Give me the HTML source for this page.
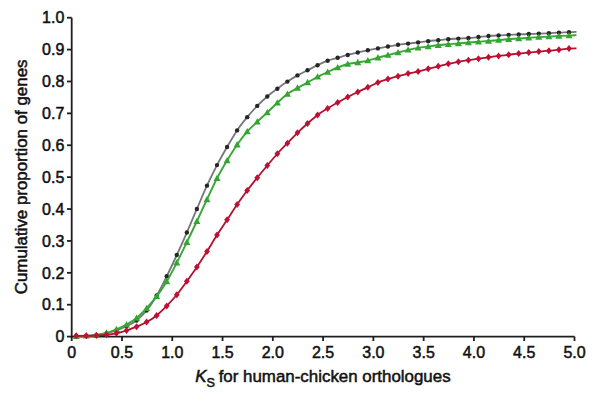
<!DOCTYPE html>
<html><head><meta charset="utf-8"><style>
html,body{margin:0;padding:0;background:#fff;}
body{width:600px;height:394px;overflow:hidden;position:relative;}
svg{position:absolute;left:0;top:0;}
text{font-family:"Liberation Sans",sans-serif;fill:#111;stroke:#111;stroke-width:0.5px;}
</style></head><body>
<svg width="600" height="394" viewBox="0 0 600 394">

<g stroke="#1e1e1e" stroke-width="1.8" fill="none">
<path d="M71.7,17.7 V336.6 H574.6"/>
<path d="M67,336.60 H71.7"/>
<path d="M67,304.71 H71.7"/>
<path d="M67,272.82 H71.7"/>
<path d="M67,240.93 H71.7"/>
<path d="M67,209.04 H71.7"/>
<path d="M67,177.15 H71.7"/>
<path d="M67,145.26 H71.7"/>
<path d="M67,113.37 H71.7"/>
<path d="M67,81.48 H71.7"/>
<path d="M67,49.59 H71.7"/>
<path d="M67,17.70 H71.7"/>
<path d="M71.70,336.6 V341"/>
<path d="M121.98,336.6 V341"/>
<path d="M172.26,336.6 V341"/>
<path d="M222.54,336.6 V341"/>
<path d="M272.82,336.6 V341"/>
<path d="M323.10,336.6 V341"/>
<path d="M373.38,336.6 V341"/>
<path d="M423.66,336.6 V341"/>
<path d="M473.94,336.6 V341"/>
<path d="M524.22,336.6 V341"/>
<path d="M574.50,336.6 V341"/>
</g>
<g font-size="16" text-anchor="end">
<text x="64.3" y="342.30">0</text>
<text x="64.3" y="310.41">0.1</text>
<text x="64.3" y="278.52">0.2</text>
<text x="64.3" y="246.63">0.3</text>
<text x="64.3" y="214.74">0.4</text>
<text x="64.3" y="182.85">0.5</text>
<text x="64.3" y="150.96">0.6</text>
<text x="64.3" y="119.07">0.7</text>
<text x="64.3" y="87.18">0.8</text>
<text x="64.3" y="55.29">0.9</text>
<text x="64.3" y="23.40">1.0</text>
</g>
<g font-size="16" text-anchor="middle">
<text x="71.70" y="358">0</text>
<text x="121.98" y="358">0.5</text>
<text x="172.26" y="358">1.0</text>
<text x="222.54" y="358">1.5</text>
<text x="272.82" y="358">2.0</text>
<text x="323.10" y="358">2.5</text>
<text x="373.38" y="358">3.0</text>
<text x="423.66" y="358">3.5</text>
<text x="473.94" y="358">4.0</text>
<text x="524.22" y="358">4.5</text>
<text x="574.50" y="358">5.0</text>
</g>
<text x="0" y="0" font-size="16.9" text-anchor="middle" transform="translate(26.8,176.9) rotate(-90)">Cumulative proportion of genes</text>
<text x="195.3" y="382.3" font-size="16.9"><tspan font-style="italic">K</tspan><tspan font-size="12.6" dy="4.4">S</tspan><tspan dy="-4.4" dx="-1"> for human-chicken orthologues</tspan></text>
<path d="M76.23,336.30 C77.90,336.24 82.93,336.11 86.28,335.92 C89.64,335.73 92.99,335.55 96.34,335.14 C99.69,334.73 103.04,334.24 106.40,333.44 C109.75,332.64 113.10,331.55 116.45,330.36 C119.80,329.17 123.16,327.94 126.51,326.30 C129.86,324.66 133.21,323.15 136.56,320.52 C139.92,317.89 143.27,314.71 146.62,310.54 C149.97,306.37 153.32,301.19 156.68,295.48 C160.03,289.77 163.38,283.03 166.73,276.28 C170.08,269.53 173.44,262.29 176.79,255.00 C180.14,247.71 183.49,240.20 186.84,232.52 C190.20,224.84 193.55,216.75 196.90,208.94 C200.25,201.13 203.60,192.95 206.96,185.64 C210.31,178.33 213.66,171.53 217.01,165.08 C220.36,158.63 223.72,152.74 227.07,146.96 C230.42,141.18 233.77,135.35 237.12,130.38 C240.48,125.41 243.83,121.24 247.18,117.16 C250.53,113.08 253.88,109.37 257.24,105.92 C260.59,102.47 263.94,99.35 267.29,96.48 C270.64,93.61 274.00,91.16 277.35,88.68 C280.70,86.20 284.05,83.83 287.40,81.62 C290.76,79.41 294.11,77.28 297.46,75.40 C300.81,73.52 304.16,72.02 307.52,70.32 C310.87,68.62 314.22,66.79 317.57,65.18 C320.92,63.57 324.28,61.91 327.63,60.68 C330.98,59.45 334.33,58.73 337.68,57.78 C341.04,56.83 344.39,55.85 347.74,54.96 C351.09,54.07 354.44,53.22 357.80,52.44 C361.15,51.66 364.50,50.95 367.85,50.28 C371.20,49.61 374.56,49.02 377.91,48.40 C381.26,47.78 384.61,47.16 387.96,46.56 C391.32,45.96 394.67,45.30 398.02,44.80 C401.37,44.30 404.72,43.98 408.08,43.58 C411.43,43.18 414.78,42.82 418.13,42.42 C421.48,42.02 424.84,41.53 428.19,41.16 C431.54,40.79 434.89,40.51 438.24,40.18 C441.60,39.85 444.95,39.45 448.30,39.18 C451.65,38.91 455.00,38.78 458.36,38.58 C461.71,38.38 465.06,38.25 468.41,38.00 C471.76,37.75 475.12,37.39 478.47,37.06 C481.82,36.73 485.17,36.32 488.52,36.04 C491.88,35.76 495.23,35.58 498.58,35.38 C501.93,35.18 505.28,35.01 508.64,34.86 C511.99,34.71 515.34,34.60 518.69,34.46 C522.04,34.32 525.40,34.16 528.75,34.02 C532.10,33.88 535.45,33.76 538.80,33.62 C542.16,33.48 545.51,33.37 548.86,33.20 C552.21,33.03 555.56,32.77 558.92,32.60 C562.27,32.43 566.04,32.33 568.97,32.20 C571.90,32.07 575.25,31.87 576.50,31.80" fill="none" stroke="#76777c" stroke-width="1.8" stroke-linejoin="round"/>
<circle cx="76.23" cy="336.30" r="2.2" fill="#262626"/>
<circle cx="86.28" cy="335.92" r="2.2" fill="#262626"/>
<circle cx="96.34" cy="335.14" r="2.2" fill="#262626"/>
<circle cx="106.40" cy="333.44" r="2.2" fill="#262626"/>
<circle cx="116.45" cy="330.36" r="2.2" fill="#262626"/>
<circle cx="126.51" cy="326.30" r="2.2" fill="#262626"/>
<circle cx="136.56" cy="320.52" r="2.2" fill="#262626"/>
<circle cx="146.62" cy="310.54" r="2.2" fill="#262626"/>
<circle cx="156.68" cy="295.48" r="2.2" fill="#262626"/>
<circle cx="166.73" cy="276.28" r="2.2" fill="#262626"/>
<circle cx="176.79" cy="255.00" r="2.2" fill="#262626"/>
<circle cx="186.84" cy="232.52" r="2.2" fill="#262626"/>
<circle cx="196.90" cy="208.94" r="2.2" fill="#262626"/>
<circle cx="206.96" cy="185.64" r="2.2" fill="#262626"/>
<circle cx="217.01" cy="165.08" r="2.2" fill="#262626"/>
<circle cx="227.07" cy="146.96" r="2.2" fill="#262626"/>
<circle cx="237.12" cy="130.38" r="2.2" fill="#262626"/>
<circle cx="247.18" cy="117.16" r="2.2" fill="#262626"/>
<circle cx="257.24" cy="105.92" r="2.2" fill="#262626"/>
<circle cx="267.29" cy="96.48" r="2.2" fill="#262626"/>
<circle cx="277.35" cy="88.68" r="2.2" fill="#262626"/>
<circle cx="287.40" cy="81.62" r="2.2" fill="#262626"/>
<circle cx="297.46" cy="75.40" r="2.2" fill="#262626"/>
<circle cx="307.52" cy="70.32" r="2.2" fill="#262626"/>
<circle cx="317.57" cy="65.18" r="2.2" fill="#262626"/>
<circle cx="327.63" cy="60.68" r="2.2" fill="#262626"/>
<circle cx="337.68" cy="57.78" r="2.2" fill="#262626"/>
<circle cx="347.74" cy="54.96" r="2.2" fill="#262626"/>
<circle cx="357.80" cy="52.44" r="2.2" fill="#262626"/>
<circle cx="367.85" cy="50.28" r="2.2" fill="#262626"/>
<circle cx="377.91" cy="48.40" r="2.2" fill="#262626"/>
<circle cx="387.96" cy="46.56" r="2.2" fill="#262626"/>
<circle cx="398.02" cy="44.80" r="2.2" fill="#262626"/>
<circle cx="408.08" cy="43.58" r="2.2" fill="#262626"/>
<circle cx="418.13" cy="42.42" r="2.2" fill="#262626"/>
<circle cx="428.19" cy="41.16" r="2.2" fill="#262626"/>
<circle cx="438.24" cy="40.18" r="2.2" fill="#262626"/>
<circle cx="448.30" cy="39.18" r="2.2" fill="#262626"/>
<circle cx="458.36" cy="38.58" r="2.2" fill="#262626"/>
<circle cx="468.41" cy="38.00" r="2.2" fill="#262626"/>
<circle cx="478.47" cy="37.06" r="2.2" fill="#262626"/>
<circle cx="488.52" cy="36.04" r="2.2" fill="#262626"/>
<circle cx="498.58" cy="35.38" r="2.2" fill="#262626"/>
<circle cx="508.64" cy="34.86" r="2.2" fill="#262626"/>
<circle cx="518.69" cy="34.46" r="2.2" fill="#262626"/>
<circle cx="528.75" cy="34.02" r="2.2" fill="#262626"/>
<circle cx="538.80" cy="33.62" r="2.2" fill="#262626"/>
<circle cx="548.86" cy="33.20" r="2.2" fill="#262626"/>
<circle cx="558.92" cy="32.60" r="2.2" fill="#262626"/>
<circle cx="568.97" cy="32.20" r="2.2" fill="#262626"/>
<path d="M76.23,336.30 C77.90,336.23 82.93,336.12 86.28,335.90 C89.64,335.68 92.99,335.48 96.34,334.98 C99.69,334.48 103.04,333.86 106.40,332.92 C109.75,331.98 113.10,330.73 116.45,329.36 C119.80,327.99 123.16,326.57 126.51,324.68 C129.86,322.79 133.21,320.76 136.56,318.02 C139.92,315.28 143.27,311.84 146.62,308.24 C149.97,304.64 153.32,300.89 156.68,296.42 C160.03,291.95 163.38,287.06 166.73,281.44 C170.08,275.82 173.44,269.21 176.79,262.68 C180.14,256.15 183.49,249.16 186.84,242.26 C190.20,235.36 193.55,228.41 196.90,221.28 C200.25,214.15 203.60,206.65 206.96,199.48 C210.31,192.31 213.66,184.76 217.01,178.26 C220.36,171.76 223.72,166.07 227.07,160.48 C230.42,154.89 233.77,149.50 237.12,144.70 C240.48,139.90 243.83,135.48 247.18,131.66 C250.53,127.84 253.88,124.96 257.24,121.76 C260.59,118.56 263.94,115.64 267.29,112.48 C270.64,109.32 274.00,105.90 277.35,102.82 C280.70,99.74 284.05,96.50 287.40,94.02 C290.76,91.54 294.11,89.87 297.46,87.94 C300.81,86.01 304.16,84.31 307.52,82.46 C310.87,80.61 314.22,78.57 317.57,76.82 C320.92,75.07 324.28,73.53 327.63,71.98 C330.98,70.43 334.33,68.83 337.68,67.50 C341.04,66.17 344.39,64.82 347.74,63.98 C351.09,63.14 354.44,62.99 357.80,62.44 C361.15,61.89 364.50,61.45 367.85,60.66 C371.20,59.87 374.56,58.63 377.91,57.70 C381.26,56.77 384.61,55.97 387.96,55.10 C391.32,54.23 394.67,53.35 398.02,52.48 C401.37,51.61 404.72,50.63 408.08,49.86 C411.43,49.09 414.78,48.44 418.13,47.88 C421.48,47.32 424.84,46.96 428.19,46.52 C431.54,46.08 434.89,45.60 438.24,45.22 C441.60,44.84 444.95,44.55 448.30,44.26 C451.65,43.97 455.00,43.78 458.36,43.48 C461.71,43.18 465.06,42.78 468.41,42.48 C471.76,42.18 475.12,41.92 478.47,41.68 C481.82,41.44 485.17,41.31 488.52,41.04 C491.88,40.77 495.23,40.37 498.58,40.06 C501.93,39.75 505.28,39.43 508.64,39.18 C511.99,38.93 515.34,38.77 518.69,38.54 C522.04,38.31 525.40,38.05 528.75,37.82 C532.10,37.59 535.45,37.35 538.80,37.14 C542.16,36.93 545.51,36.76 548.86,36.58 C552.21,36.40 555.56,36.20 558.92,36.04 C562.27,35.88 566.04,35.76 568.97,35.60 C571.90,35.44 575.25,35.18 576.50,35.10" fill="none" stroke="#36a834" stroke-width="1.9" stroke-linejoin="round"/>
<path d="M76.23,332.70 L79.73,339.00 L72.73,339.00 Z" fill="#33a632"/>
<path d="M86.28,332.30 L89.78,338.60 L82.78,338.60 Z" fill="#33a632"/>
<path d="M96.34,331.38 L99.84,337.68 L92.84,337.68 Z" fill="#33a632"/>
<path d="M106.40,329.32 L109.90,335.62 L102.90,335.62 Z" fill="#33a632"/>
<path d="M116.45,325.76 L119.95,332.06 L112.95,332.06 Z" fill="#33a632"/>
<path d="M126.51,321.08 L130.01,327.38 L123.01,327.38 Z" fill="#33a632"/>
<path d="M136.56,314.42 L140.06,320.72 L133.06,320.72 Z" fill="#33a632"/>
<path d="M146.62,304.64 L150.12,310.94 L143.12,310.94 Z" fill="#33a632"/>
<path d="M156.68,292.82 L160.18,299.12 L153.18,299.12 Z" fill="#33a632"/>
<path d="M166.73,277.84 L170.23,284.14 L163.23,284.14 Z" fill="#33a632"/>
<path d="M176.79,259.08 L180.29,265.38 L173.29,265.38 Z" fill="#33a632"/>
<path d="M186.84,238.66 L190.34,244.96 L183.34,244.96 Z" fill="#33a632"/>
<path d="M196.90,217.68 L200.40,223.98 L193.40,223.98 Z" fill="#33a632"/>
<path d="M206.96,195.88 L210.46,202.18 L203.46,202.18 Z" fill="#33a632"/>
<path d="M217.01,174.66 L220.51,180.96 L213.51,180.96 Z" fill="#33a632"/>
<path d="M227.07,156.88 L230.57,163.18 L223.57,163.18 Z" fill="#33a632"/>
<path d="M237.12,141.10 L240.62,147.40 L233.62,147.40 Z" fill="#33a632"/>
<path d="M247.18,128.06 L250.68,134.36 L243.68,134.36 Z" fill="#33a632"/>
<path d="M257.24,118.16 L260.74,124.46 L253.74,124.46 Z" fill="#33a632"/>
<path d="M267.29,108.88 L270.79,115.18 L263.79,115.18 Z" fill="#33a632"/>
<path d="M277.35,99.22 L280.85,105.52 L273.85,105.52 Z" fill="#33a632"/>
<path d="M287.40,90.42 L290.90,96.72 L283.90,96.72 Z" fill="#33a632"/>
<path d="M297.46,84.34 L300.96,90.64 L293.96,90.64 Z" fill="#33a632"/>
<path d="M307.52,78.86 L311.02,85.16 L304.02,85.16 Z" fill="#33a632"/>
<path d="M317.57,73.22 L321.07,79.52 L314.07,79.52 Z" fill="#33a632"/>
<path d="M327.63,68.38 L331.13,74.68 L324.13,74.68 Z" fill="#33a632"/>
<path d="M337.68,63.90 L341.18,70.20 L334.18,70.20 Z" fill="#33a632"/>
<path d="M347.74,60.38 L351.24,66.68 L344.24,66.68 Z" fill="#33a632"/>
<path d="M357.80,58.84 L361.30,65.14 L354.30,65.14 Z" fill="#33a632"/>
<path d="M367.85,57.06 L371.35,63.36 L364.35,63.36 Z" fill="#33a632"/>
<path d="M377.91,54.10 L381.41,60.40 L374.41,60.40 Z" fill="#33a632"/>
<path d="M387.96,51.50 L391.46,57.80 L384.46,57.80 Z" fill="#33a632"/>
<path d="M398.02,48.88 L401.52,55.18 L394.52,55.18 Z" fill="#33a632"/>
<path d="M408.08,46.26 L411.58,52.56 L404.58,52.56 Z" fill="#33a632"/>
<path d="M418.13,44.28 L421.63,50.58 L414.63,50.58 Z" fill="#33a632"/>
<path d="M428.19,42.92 L431.69,49.22 L424.69,49.22 Z" fill="#33a632"/>
<path d="M438.24,41.62 L441.74,47.92 L434.74,47.92 Z" fill="#33a632"/>
<path d="M448.30,40.66 L451.80,46.96 L444.80,46.96 Z" fill="#33a632"/>
<path d="M458.36,39.88 L461.86,46.18 L454.86,46.18 Z" fill="#33a632"/>
<path d="M468.41,38.88 L471.91,45.18 L464.91,45.18 Z" fill="#33a632"/>
<path d="M478.47,38.08 L481.97,44.38 L474.97,44.38 Z" fill="#33a632"/>
<path d="M488.52,37.44 L492.02,43.74 L485.02,43.74 Z" fill="#33a632"/>
<path d="M498.58,36.46 L502.08,42.76 L495.08,42.76 Z" fill="#33a632"/>
<path d="M508.64,35.58 L512.14,41.88 L505.14,41.88 Z" fill="#33a632"/>
<path d="M518.69,34.94 L522.19,41.24 L515.19,41.24 Z" fill="#33a632"/>
<path d="M528.75,34.22 L532.25,40.52 L525.25,40.52 Z" fill="#33a632"/>
<path d="M538.80,33.54 L542.30,39.84 L535.30,39.84 Z" fill="#33a632"/>
<path d="M548.86,32.98 L552.36,39.28 L545.36,39.28 Z" fill="#33a632"/>
<path d="M558.92,32.44 L562.42,38.74 L555.42,38.74 Z" fill="#33a632"/>
<path d="M568.97,32.00 L572.47,38.30 L565.47,38.30 Z" fill="#33a632"/>
<path d="M76.23,335.80 C77.90,335.79 82.93,335.80 86.28,335.74 C89.64,335.68 92.99,335.61 96.34,335.46 C99.69,335.31 103.04,335.18 106.40,334.82 C109.75,334.46 113.10,334.02 116.45,333.30 C119.80,332.58 123.16,331.60 126.51,330.50 C129.86,329.40 133.21,328.11 136.56,326.70 C139.92,325.29 143.27,323.94 146.62,322.06 C149.97,320.18 153.32,318.13 156.68,315.44 C160.03,312.75 163.38,309.36 166.73,305.92 C170.08,302.48 173.44,298.88 176.79,294.78 C180.14,290.68 183.49,285.96 186.84,281.34 C190.20,276.72 193.55,272.07 196.90,267.08 C200.25,262.09 203.60,256.74 206.96,251.40 C210.31,246.06 213.66,240.30 217.01,235.04 C220.36,229.78 223.72,224.94 227.07,219.86 C230.42,214.78 233.77,209.42 237.12,204.54 C240.48,199.66 243.83,195.03 247.18,190.56 C250.53,186.09 253.88,181.92 257.24,177.74 C260.59,173.56 263.94,169.48 267.29,165.48 C270.64,161.48 274.00,157.46 277.35,153.74 C280.70,150.02 284.05,146.62 287.40,143.14 C290.76,139.66 294.11,136.14 297.46,132.86 C300.81,129.58 304.16,126.44 307.52,123.46 C310.87,120.48 314.22,117.47 317.57,114.96 C320.92,112.45 324.28,110.46 327.63,108.38 C330.98,106.30 334.33,104.40 337.68,102.50 C341.04,100.60 344.39,98.72 347.74,96.96 C351.09,95.20 354.44,93.54 357.80,91.94 C361.15,90.34 364.50,88.91 367.85,87.34 C371.20,85.77 374.56,83.89 377.91,82.52 C381.26,81.15 384.61,80.18 387.96,79.12 C391.32,78.06 394.67,77.09 398.02,76.16 C401.37,75.23 404.72,74.34 408.08,73.56 C411.43,72.78 414.78,72.26 418.13,71.48 C421.48,70.70 424.84,69.72 428.19,68.86 C431.54,68.00 434.89,67.16 438.24,66.32 C441.60,65.48 444.95,64.59 448.30,63.84 C451.65,63.09 455.00,62.41 458.36,61.80 C461.71,61.19 465.06,60.71 468.41,60.20 C471.76,59.69 475.12,59.21 478.47,58.72 C481.82,58.23 485.17,57.75 488.52,57.28 C491.88,56.81 495.23,56.34 498.58,55.92 C501.93,55.50 505.28,55.18 508.64,54.78 C511.99,54.38 515.34,53.91 518.69,53.54 C522.04,53.17 525.40,52.87 528.75,52.54 C532.10,52.21 535.45,51.89 538.80,51.58 C542.16,51.27 545.51,51.02 548.86,50.70 C552.21,50.38 555.56,49.99 558.92,49.64 C562.27,49.29 566.04,48.82 568.97,48.60 C571.90,48.38 575.25,48.35 576.50,48.30" fill="none" stroke="#b3102e" stroke-width="1.8" stroke-linejoin="round"/>
<path d="M76.23,332.30 L79.13,335.80 L76.23,339.30 L73.33,335.80 Z" fill="#c00f32"/>
<path d="M86.28,332.24 L89.18,335.74 L86.28,339.24 L83.38,335.74 Z" fill="#c00f32"/>
<path d="M96.34,331.96 L99.24,335.46 L96.34,338.96 L93.44,335.46 Z" fill="#c00f32"/>
<path d="M106.40,331.32 L109.30,334.82 L106.40,338.32 L103.50,334.82 Z" fill="#c00f32"/>
<path d="M116.45,329.80 L119.35,333.30 L116.45,336.80 L113.55,333.30 Z" fill="#c00f32"/>
<path d="M126.51,327.00 L129.41,330.50 L126.51,334.00 L123.61,330.50 Z" fill="#c00f32"/>
<path d="M136.56,323.20 L139.46,326.70 L136.56,330.20 L133.66,326.70 Z" fill="#c00f32"/>
<path d="M146.62,318.56 L149.52,322.06 L146.62,325.56 L143.72,322.06 Z" fill="#c00f32"/>
<path d="M156.68,311.94 L159.58,315.44 L156.68,318.94 L153.78,315.44 Z" fill="#c00f32"/>
<path d="M166.73,302.42 L169.63,305.92 L166.73,309.42 L163.83,305.92 Z" fill="#c00f32"/>
<path d="M176.79,291.28 L179.69,294.78 L176.79,298.28 L173.89,294.78 Z" fill="#c00f32"/>
<path d="M186.84,277.84 L189.74,281.34 L186.84,284.84 L183.94,281.34 Z" fill="#c00f32"/>
<path d="M196.90,263.58 L199.80,267.08 L196.90,270.58 L194.00,267.08 Z" fill="#c00f32"/>
<path d="M206.96,247.90 L209.86,251.40 L206.96,254.90 L204.06,251.40 Z" fill="#c00f32"/>
<path d="M217.01,231.54 L219.91,235.04 L217.01,238.54 L214.11,235.04 Z" fill="#c00f32"/>
<path d="M227.07,216.36 L229.97,219.86 L227.07,223.36 L224.17,219.86 Z" fill="#c00f32"/>
<path d="M237.12,201.04 L240.02,204.54 L237.12,208.04 L234.22,204.54 Z" fill="#c00f32"/>
<path d="M247.18,187.06 L250.08,190.56 L247.18,194.06 L244.28,190.56 Z" fill="#c00f32"/>
<path d="M257.24,174.24 L260.14,177.74 L257.24,181.24 L254.34,177.74 Z" fill="#c00f32"/>
<path d="M267.29,161.98 L270.19,165.48 L267.29,168.98 L264.39,165.48 Z" fill="#c00f32"/>
<path d="M277.35,150.24 L280.25,153.74 L277.35,157.24 L274.45,153.74 Z" fill="#c00f32"/>
<path d="M287.40,139.64 L290.30,143.14 L287.40,146.64 L284.50,143.14 Z" fill="#c00f32"/>
<path d="M297.46,129.36 L300.36,132.86 L297.46,136.36 L294.56,132.86 Z" fill="#c00f32"/>
<path d="M307.52,119.96 L310.42,123.46 L307.52,126.96 L304.62,123.46 Z" fill="#c00f32"/>
<path d="M317.57,111.46 L320.47,114.96 L317.57,118.46 L314.67,114.96 Z" fill="#c00f32"/>
<path d="M327.63,104.88 L330.53,108.38 L327.63,111.88 L324.73,108.38 Z" fill="#c00f32"/>
<path d="M337.68,99.00 L340.58,102.50 L337.68,106.00 L334.78,102.50 Z" fill="#c00f32"/>
<path d="M347.74,93.46 L350.64,96.96 L347.74,100.46 L344.84,96.96 Z" fill="#c00f32"/>
<path d="M357.80,88.44 L360.70,91.94 L357.80,95.44 L354.90,91.94 Z" fill="#c00f32"/>
<path d="M367.85,83.84 L370.75,87.34 L367.85,90.84 L364.95,87.34 Z" fill="#c00f32"/>
<path d="M377.91,79.02 L380.81,82.52 L377.91,86.02 L375.01,82.52 Z" fill="#c00f32"/>
<path d="M387.96,75.62 L390.86,79.12 L387.96,82.62 L385.06,79.12 Z" fill="#c00f32"/>
<path d="M398.02,72.66 L400.92,76.16 L398.02,79.66 L395.12,76.16 Z" fill="#c00f32"/>
<path d="M408.08,70.06 L410.98,73.56 L408.08,77.06 L405.18,73.56 Z" fill="#c00f32"/>
<path d="M418.13,67.98 L421.03,71.48 L418.13,74.98 L415.23,71.48 Z" fill="#c00f32"/>
<path d="M428.19,65.36 L431.09,68.86 L428.19,72.36 L425.29,68.86 Z" fill="#c00f32"/>
<path d="M438.24,62.82 L441.14,66.32 L438.24,69.82 L435.34,66.32 Z" fill="#c00f32"/>
<path d="M448.30,60.34 L451.20,63.84 L448.30,67.34 L445.40,63.84 Z" fill="#c00f32"/>
<path d="M458.36,58.30 L461.26,61.80 L458.36,65.30 L455.46,61.80 Z" fill="#c00f32"/>
<path d="M468.41,56.70 L471.31,60.20 L468.41,63.70 L465.51,60.20 Z" fill="#c00f32"/>
<path d="M478.47,55.22 L481.37,58.72 L478.47,62.22 L475.57,58.72 Z" fill="#c00f32"/>
<path d="M488.52,53.78 L491.42,57.28 L488.52,60.78 L485.62,57.28 Z" fill="#c00f32"/>
<path d="M498.58,52.42 L501.48,55.92 L498.58,59.42 L495.68,55.92 Z" fill="#c00f32"/>
<path d="M508.64,51.28 L511.54,54.78 L508.64,58.28 L505.74,54.78 Z" fill="#c00f32"/>
<path d="M518.69,50.04 L521.59,53.54 L518.69,57.04 L515.79,53.54 Z" fill="#c00f32"/>
<path d="M528.75,49.04 L531.65,52.54 L528.75,56.04 L525.85,52.54 Z" fill="#c00f32"/>
<path d="M538.80,48.08 L541.70,51.58 L538.80,55.08 L535.90,51.58 Z" fill="#c00f32"/>
<path d="M548.86,47.20 L551.76,50.70 L548.86,54.20 L545.96,50.70 Z" fill="#c00f32"/>
<path d="M558.92,46.14 L561.82,49.64 L558.92,53.14 L556.02,49.64 Z" fill="#c00f32"/>
<path d="M568.97,45.10 L571.87,48.60 L568.97,52.10 L566.07,48.60 Z" fill="#c00f32"/>
</svg></body></html>
